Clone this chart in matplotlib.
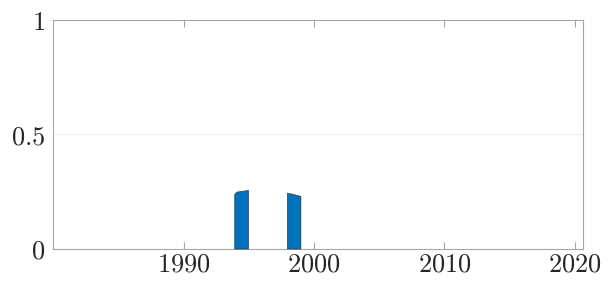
import matplotlib
matplotlib.use("Agg")
import matplotlib.pyplot as plt
import numpy as np

plt.rcParams['mathtext.fontset'] = 'cm'
plt.rcParams['font.family'] = 'serif'
plt.rcParams['font.serif'] = ['DejaVu Serif']

# Data: two filled segments (year, value)
seg1_years = [1993.88, 1994.05, 1994.93]
seg1_values = [0.239, 0.249, 0.256]
seg2_years = [1997.92, 1998.3, 1998.95]
seg2_values = [0.244, 0.240, 0.230]

xticks = [1990, 2000, 2010, 2020]
yticks = [0, 0.5, 1]
ytick_labels = ['$0$', '$0.5$', '$1$']
xtick_labels = ['$1990$', '$2000$', '$2010$', '$2020$']

fig = plt.figure(figsize=(6.07, 2.84), dpi=100)
ax = fig.add_axes([0.0878, 0.125, 0.961 - 0.0878, 0.9296 - 0.125])

fill_color = '#0072BD'
for xs, ys in [(seg1_years, seg1_values), (seg2_years, seg2_values)]:
    ax.fill_between(xs, 0, ys, facecolor=fill_color, edgecolor='#2a3a4a',
                    linewidth=0.5, zorder=3)

ax.set_xlim(1980, 2020.65)
ax.set_ylim(0, 1)
ax.set_xticks(xticks)
ax.set_xticklabels(xtick_labels)
ax.set_yticks(yticks)
ax.set_yticklabels(ytick_labels)

ax.yaxis.grid(True, color='#ebebeb', linewidth=0.6, zorder=0)
ax.set_axisbelow(True)

for s in ax.spines.values():
    s.set_color('#a6a6a6')
    s.set_linewidth(0.8)

ax.tick_params(axis='both', direction='in', length=5, width=0.8,
               color='#a6a6a6', labelsize=19, labelcolor='#262626',
               top=True, right=False)
ax.tick_params(axis='x', pad=2)
ax.tick_params(axis='y', pad=6, length=0)

fig.savefig('out.png', dpi=100)
